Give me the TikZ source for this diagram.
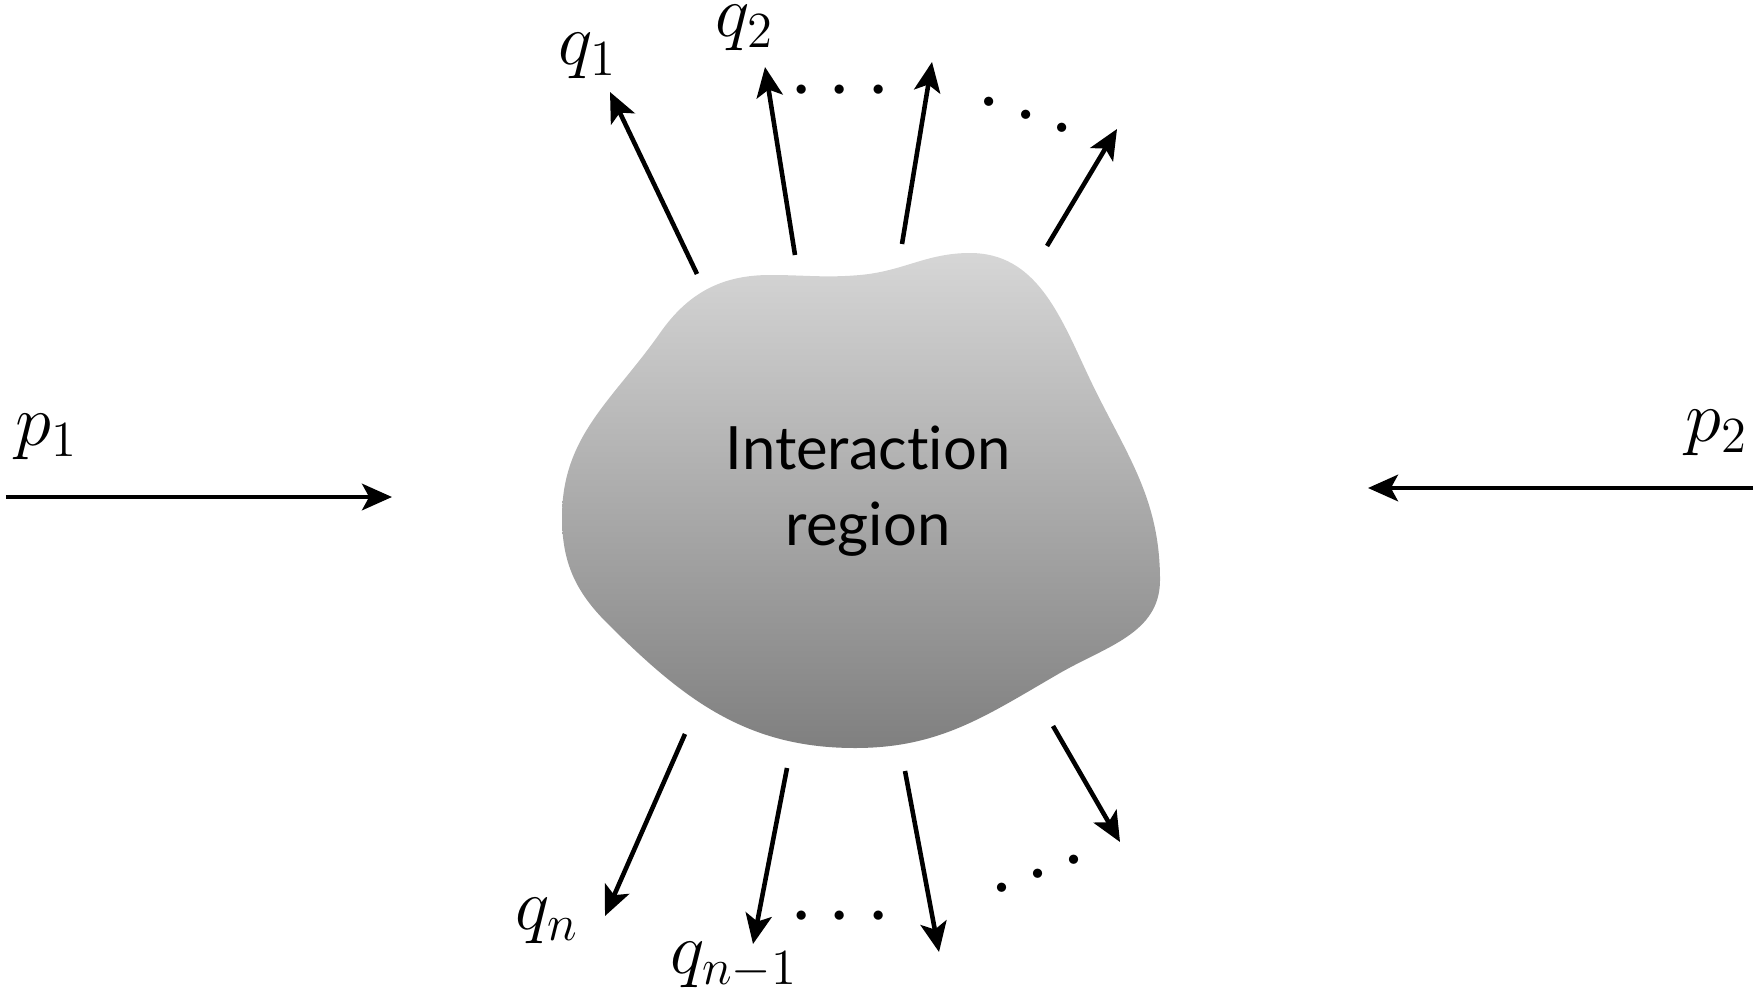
\documentclass[tikz,border=0pt]{standalone}
\usepackage{fontspec}
\newfontfamily\regionfont[Ligatures=NoCommon]{Lato}
\usetikzlibrary{arrows.meta}

\tikzset{
	mom/.style={-{Stealth[length=8.5pt,width=7.5pt,inset=2pt]}, line width=1.3pt},
	lbl/.style={font=\fontsize{20.2}{24}\selectfont, inner sep=1pt},
	dts/.style={font=\fontsize{24}{28}\selectfont, inner sep=1pt},
}

\begin{document}
\begin{tikzpicture}
	\useasboundingbox (0,0) rectangle (17.56,9.98);
	
	% interaction region
	\shade[top color=black!16, bottom color=black!50] (7.70,7.23) to[out=0,in=185] (8.60,7.23) to[out=5,in=180] (9.70,7.45)
		to[out=0,in=115] (10.87,6.25) to[out=-65,in=90] (11.60,4.18) to[out=-90,in=30] (10.60,3.25)
		to[out=-150,in=0] (8.55,2.50) to[out=180,in=-45] (6.07,3.75) to[out=135,in=-90] (5.62,4.81)
		to[out=90,in=-125] (6.60,6.65) to[out=55,in=180] (7.70,7.23) -- cycle;
	\node[align=center, font=\regionfont\fontsize{17}{21.6}\selectfont] (region) at (8.68,5.07) {Interaction\\region};
	
	% incoming
	\coordinate (p1s) at (0.06,5.01);
	\coordinate (p1e) at (3.92,5.01);
	\coordinate (p2s) at (17.53,5.10);
	\coordinate (p2e) at (13.68,5.10);
	\draw[mom] (p1s) -- (p1e);
	\draw[mom] (p2s) -- (p2e);
	\node[lbl] (p1) at (0.47,5.61) {$p_1$};
	\node[lbl] (p2) at (17.17,5.65) {$p_2$};
	
	% outgoing, upper
	\coordinate (u1s) at (6.97,7.24);  \coordinate (u1e) at (6.10,9.06);
	\coordinate (u2s) at (7.95,7.43);  \coordinate (u2e) at (7.65,9.31);
	\coordinate (u3s) at (9.02,7.54);  \coordinate (u3e) at (9.32,9.36);
	\coordinate (u4s) at (10.47,7.52); \coordinate (u4e) at (11.17,8.69);
	\draw[mom] (u1s) -- (u1e);
	\draw[mom] (u2s) -- (u2e);
	\draw[mom] (u3s) -- (u3e);
	\draw[mom] (u4s) -- (u4e);
	\node[lbl] (q1) at (5.88,9.42) {$q_1$};
	\node[lbl] (q2) at (7.45,9.70) {$q_2$};
	\node[dts] (dots1) at (8.40,9.06) {$\cdots$};
	\node[dts, rotate=-19] (dots2) at (10.25,8.81) {$\cdots$};
	
	% outgoing, lower
	\coordinate (d1s) at (6.85,2.64);  \coordinate (d1e) at (6.05,0.82);
	\coordinate (d2s) at (7.87,2.30);  \coordinate (d2e) at (7.53,0.54);
	\coordinate (d3s) at (9.05,2.27);  \coordinate (d3e) at (9.39,0.46);
	\coordinate (d4s) at (10.53,2.72); \coordinate (d4e) at (11.20,1.56);
	\draw[mom] (d1s) -- (d1e);
	\draw[mom] (d2s) -- (d2e);
	\draw[mom] (d3s) -- (d3e);
	\draw[mom] (d4s) -- (d4e);
	\node[lbl] (qn) at (5.47,0.77) {$q_n$};
	\node[lbl] (qm) at (7.34,0.33) {$q_{n-1}$};
	\node[dts] (dots3) at (8.40,0.80) {$\cdots$};
	\node[dts, rotate=21] (dots4) at (10.39,1.22) {$\cdots$};
\end{tikzpicture}
\end{document}
